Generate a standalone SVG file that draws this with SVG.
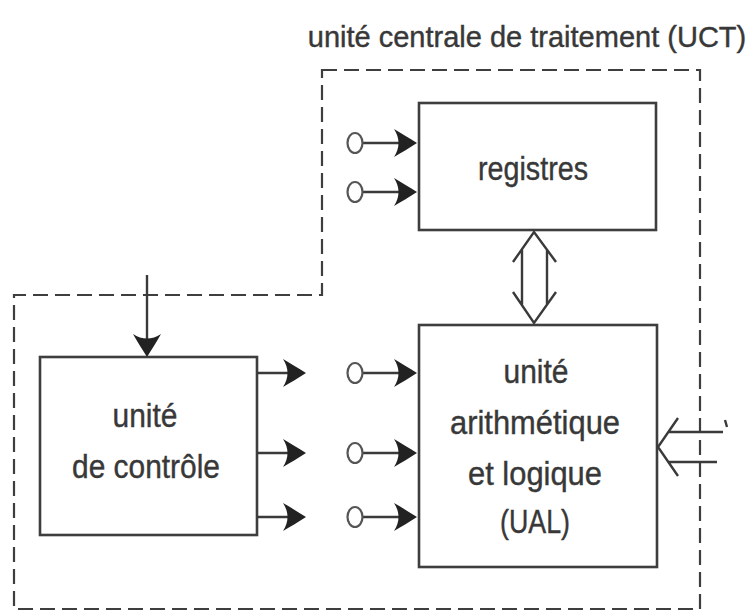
<svg xmlns="http://www.w3.org/2000/svg" xmlns:xlink="http://www.w3.org/1999/xlink" width="756" height="613" viewBox="0 0 756 613">
<style>
.box{fill:#fff;stroke:#3e3e3e;stroke-width:2.6}
.ln{fill:none;stroke:#3a3a3a;stroke-width:2.4}
.dash{fill:none;stroke:#3e3e3e;stroke-width:2.2;stroke-dasharray:15 7}
.io{fill:#fff;stroke:#555;stroke-width:2.2}
.ah{fill:#222;stroke:none}
text{font-family:"Liberation Sans",Arial,sans-serif;font-size:34px;fill:#383838;stroke:#383838;stroke-width:0.4;text-anchor:middle}
.title{font-size:29px}
</style>
<defs>
<path id="ah" class="ah" d="M0,0 C-8,-5 -16,-10 -23,-14 C-17,-5 -17,5 -23,14 C-16,10 -8,5 0,0 Z"/>
</defs>
<rect width="756" height="613" fill="#fff"/>
<g id="uct">
<path class="dash" d="M322,70 L700,70 L700,609 L14,609 L14,295 L322,295 Z"/>
<text class="title" x="527" y="47">unité centrale de traitement (UCT)</text>
</g>
<g id="registres">
<rect class="box" x="419" y="103" width="237" height="127"/>
<text x="533" y="180" textLength="110" lengthAdjust="spacingAndGlyphs">registres</text>
</g>
<g id="ual">
<rect class="box" x="419" y="325" width="238" height="242"/>
<text x="536" y="383" textLength="65" lengthAdjust="spacingAndGlyphs">unité</text>
<text x="535" y="434" textLength="170" lengthAdjust="spacingAndGlyphs">arithmétique</text>
<text x="535" y="485" textLength="134" lengthAdjust="spacingAndGlyphs">et logique</text>
<text x="535" y="533" textLength="70" lengthAdjust="spacingAndGlyphs">(UAL)</text>
</g>
<g id="controle">
<rect class="box" x="40" y="357" width="217" height="178"/>
<text x="145" y="427" textLength="65" lengthAdjust="spacingAndGlyphs">unité</text>
<text x="146" y="478" textLength="148" lengthAdjust="spacingAndGlyphs">de contrôle</text>
</g>
<g id="connectors">
<line class="ln" x1="147" y1="275" x2="147" y2="345"/>
<use xlink:href="#ah" transform="translate(147,357) rotate(90)"/>
<line class="ln" x1="257" y1="373" x2="294" y2="373"/>
<use xlink:href="#ah" transform="translate(306,373)"/>
<line class="ln" x1="257" y1="453" x2="294" y2="453"/>
<use xlink:href="#ah" transform="translate(306,453)"/>
<line class="ln" x1="257" y1="517" x2="294" y2="517"/>
<use xlink:href="#ah" transform="translate(306,517)"/>
<line class="ln" x1="363" y1="373" x2="405" y2="373"/>
<ellipse class="io" cx="355" cy="373" rx="7.5" ry="10"/>
<use xlink:href="#ah" transform="translate(417,373)"/>
<line class="ln" x1="363" y1="453" x2="405" y2="453"/>
<ellipse class="io" cx="355" cy="453" rx="7.5" ry="10"/>
<use xlink:href="#ah" transform="translate(417,453)"/>
<line class="ln" x1="363" y1="517" x2="405" y2="517"/>
<ellipse class="io" cx="355" cy="517" rx="7.5" ry="10"/>
<use xlink:href="#ah" transform="translate(417,517)"/>
<line class="ln" x1="363" y1="143" x2="405" y2="143"/>
<ellipse class="io" cx="355" cy="143" rx="7.5" ry="10"/>
<use xlink:href="#ah" transform="translate(417,143)"/>
<line class="ln" x1="363" y1="192" x2="405" y2="192"/>
<ellipse class="io" cx="355" cy="192" rx="7.5" ry="10"/>
<use xlink:href="#ah" transform="translate(417,192)"/>
<path class="ln" d="M513,262 L534,232 L556,262 M513,292 L534,323 L556,292 M522,249 L522,305 M547,249 L547,305"/>
<path class="ln" d="M678,418 L658,447 L678,476 M668,432 L723,432 M668,462 L717,462"/>
<path class="ln" stroke-width="1.5" d="M725,420 L727,427"/>
</g>
</svg>
